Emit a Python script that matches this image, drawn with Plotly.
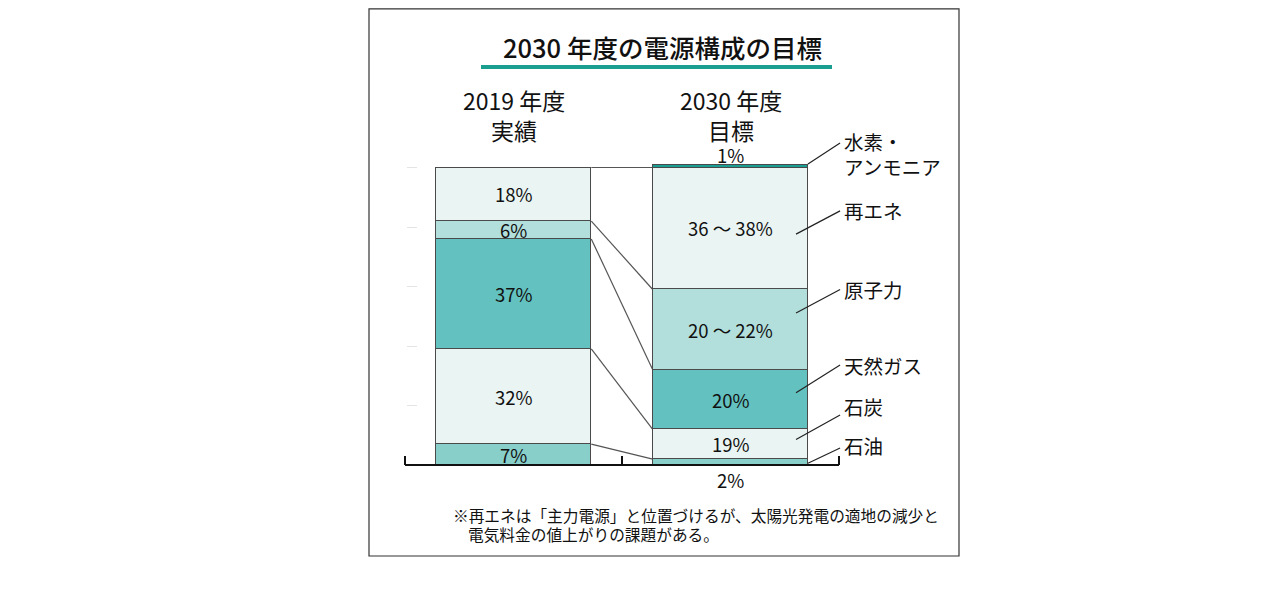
import plotly.graph_objects as go

# ---------------- data ----------------
categories = ["2019 年度<br>実績", "2030 年度<br>目標"]
sources = ["石油", "石炭", "天然ガス", "原子力", "再エネ", "水素・<br>アンモニア"]
values_2019 = [7, 32, 37, 6, 18, 0]
values_2030 = [2, 10, 20, 27, 41, 1]      # bar heights as drawn in the picture
labels_2019 = ["7%", "32%", "37%", "6%", "18%", ""]
labels_2030 = ["2%", "19%", "20%", "20 ～ 22%", "36 ～ 38%", "1%"]
colors = ["#88cfc9", "#eaf4f3", "#63c2bf", "#b2dfdb", "#eaf4f3", "#1a9e94"]

title_text = "2030 年度の電源構成の目標"
note_lines = ["※再エネは「主力電源」と位置づけるが、太陽光発電の適地の減少と",
              "電気料金の値上がりの課題がある。"]

# ---------------- layout helpers ----------------
OFF = 8                      # page body margin
W, H = 1280 - 2 * OFF, 611 - 2 * OFF
FONT = "Noto Sans CJK JP"
BAR_W = 0.717
UNIT = 217.0                 # pixels per category step
PAD = 6.0                    # extra pixels so end ticks are not clipped
def py(p):  # screen pixel row -> paper y
    return 1 - (p - OFF) / H
def px(p):  # screen pixel column -> paper x
    return (p - OFF) / W

def cum(vals):
    out, s = [], 0
    for v in vals:
        out.append(s)
        s += v
    return out

base_2019 = cum(values_2019)
base_2030 = cum(values_2030)
xpos = list(range(len(categories)))
x_lo, x_hi = -0.5, len(categories) - 0.5

fig = go.Figure()
for i, src in enumerate(sources):
    fig.add_trace(go.Bar(
        x=xpos, y=[values_2019[i], values_2030[i]],
        width=BAR_W, name=src.replace("<br>", ""),
        marker=dict(color=colors[i], line=dict(color="#4a4a4a", width=1.5)),
        hoverinfo="skip", showlegend=False,
    ))

ann = []
shapes = []
VFONT = dict(family=FONT, size=18.5, color="#111")

# value labels
for i in range(len(sources)):
    if values_2019[i] > 0:
        ann.append(dict(x=0, y=base_2019[i] + values_2019[i] / 2, xref="x", yref="y",
                        xanchor="center", yanchor="middle",
                        text=labels_2019[i], showarrow=False, font=VFONT))
for i in range(len(sources)):
    if i == 0:
        ann.append(dict(x=1, y=0, xref="x", yref="y", xanchor="center", yanchor="top",
                        yshift=0, text=labels_2030[i], showarrow=False, font=VFONT))
    elif i == len(sources) - 1:
        ann.append(dict(x=1, y=base_2030[i] + values_2030[i], xref="x", yref="y",
                        xanchor="center", yanchor="bottom", yshift=-5,
                        text=labels_2030[i], showarrow=False, font=VFONT))
    else:
        ann.append(dict(x=1, y=base_2030[i] + values_2030[i] / 2, xref="x", yref="y",
                        xanchor="center", yanchor="middle",
                        text=labels_2030[i], showarrow=False, font=VFONT))

# column headers
for k, c in enumerate(categories):
    ann.append(dict(x=k, y=py(115), xref="x", yref="paper", xanchor="center",
                    yanchor="middle", text=c, showarrow=False,
                    font=dict(family=FONT, size=23, color="#111"), align="center"))

# connectors between the two bars (top of each source)
for i in range(len(sources)):
    if values_2019[i] > 0 and values_2030[i] > 0:
        shapes.append(dict(type="line", xref="x", yref="y",
                           x0=0 + BAR_W / 2, x1=1 - BAR_W / 2,
                           y0=base_2019[i] + values_2019[i],
                           y1=base_2030[i] + values_2030[i],
                           line=dict(color="#555", width=1.2), layer="below"))

# leader lines to the source names (layout positions)
lead_frac = [0.3, 0.66, 0.615, 0.707, 0.454, 1.2]
lead_x0 = [1.357, 1.302, 1.302, 1.302, 1.302, 1.357]
lead_rise = [5.1, 8.2, 9.3, 7.9, 7.8, 7.0]
label_dy = [0.7, 3.0, -0.3, 0.0, 0.3, -3.5]
for i, src in enumerate(sources):
    y0 = base_2030[i] + lead_frac[i] * values_2030[i]
    y1 = y0 + lead_rise[i]
    shapes.append(dict(type="line", xref="x", yref="y", x0=lead_x0[i], x1=1.505,
                       y0=y0, y1=y1, line=dict(color="#222", width=1.2)))
    ann.append(dict(x=px(842), y=y1 + label_dy[i], xref="paper", yref="y",
                    xanchor="left", yanchor="middle",
                    text=src, showarrow=False, align="left",
                    font=dict(family=FONT, size=19.5, color="#111")))

# baseline between the end ticks
shapes.append(dict(type="line", xref="x", yref="paper", x0=x_lo, x1=x_hi,
                   y0=py(465), y1=py(465), line=dict(color="#111", width=2)))

# title + underline
ann.append(dict(x=px(662), y=py(46), xref="paper", yref="paper", xanchor="center",
                yanchor="middle", text=title_text, showarrow=False,
                font=dict(family=FONT, size=25.5, color="#111", weight=500)))
shapes.append(dict(type="line", xref="paper", yref="paper", x0=px(481), x1=px(832),
                   y0=py(67), y1=py(67), line=dict(color="#1a9e8f", width=4)))

# footnote
ann.append(dict(x=px(451), y=py(515), xref="paper", yref="paper", xanchor="left",
                yanchor="middle", text=note_lines[0], showarrow=False,
                font=dict(family=FONT, size=15.7, color="#111")))
ann.append(dict(x=px(466), y=py(534), xref="paper", yref="paper", xanchor="left",
                yanchor="middle", text=note_lines[1], showarrow=False,
                font=dict(family=FONT, size=15.7, color="#111")))

# outer frame
shapes.append(dict(type="rect", xref="paper", yref="paper", x0=px(369), x1=px(959),
                   y0=py(556), y1=py(8.8), line=dict(color="#333", width=1.2)))

fig.update_layout(
    width=W, height=H, margin=dict(l=0, r=0, t=0, b=0),
    paper_bgcolor="white", plot_bgcolor="rgba(0,0,0,0)",
    barmode="stack", bargap=0,
    annotations=ann, shapes=shapes,
    xaxis=dict(domain=[px(405 - PAD), px(839 + PAD)],
               range=[x_lo - PAD / UNIT, x_hi + PAD / UNIT], showgrid=False,
               zeroline=False, showline=False,
               tickvals=[x_lo + k for k in range(len(categories) + 1)],
               ticks="inside", ticklen=9, tickwidth=2,
               tickcolor="#111", showticklabels=False, fixedrange=True),
    yaxis=dict(domain=[py(465), py(108)], range=[0, 120], showgrid=False,
               anchor="free", position=px(406),
               zeroline=False, showline=False, dtick=20, ticks="inside", ticklen=10,
               tickwidth=1, tickcolor="#e4e4e4", showticklabels=False, fixedrange=True),
)

fig.write_html("out.html")
